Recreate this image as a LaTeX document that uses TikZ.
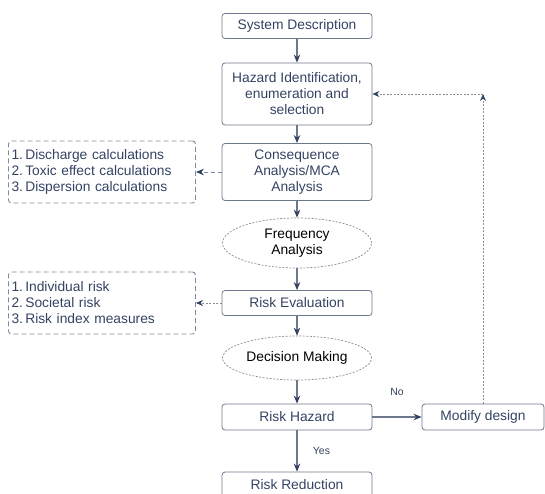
\documentclass[tikz,border=0pt]{standalone}
\usepackage{fontspec}
\setmainfont{Liberation Sans}
\usepackage{xcolor}
\usepackage{tikz}
\usetikzlibrary{shapes.geometric, arrows.meta, positioning}
\definecolor{riskink}{RGB}{52, 66, 98}
\definecolor{riskline}{RGB}{110, 120, 140}
\definecolor{riskdash}{RGB}{125, 138, 160}
\definecolor{riskdot}{RGB}{140, 140, 145}

\begin{document}
\begin{tikzpicture}[x=1pt, y=-1pt, node distance=60pt, font=\fontsize{13.8pt}{16pt}\selectfont]
    % Styles
    \tikzstyle{block} = [rectangle, draw=riskline, text=riskink, align=center, rounded corners=3pt, minimum height=25pt, minimum width=150pt, line width=0.8pt]
    \tikzstyle{cloud} = [ellipse, draw=riskdot, dash pattern=on 2pt off 1.5pt, text=black, align=center, minimum height=48pt, minimum width=149pt, line width=0.7pt, inner sep=0pt]
    \tikzstyle{notes} = [rectangle, draw=riskdash, dash pattern=on 5pt off 3pt, text=riskink, align=left, rounded corners=3pt, minimum height=62pt, text width=181pt, line width=0.9pt, inner sep=3pt]
    \tikzstyle{arrow} = [draw=riskline, line width=1.2pt, -{Stealth[length=8pt, width=6.5pt, riskink]}]
    \tikzstyle{back} = [draw=riskdot, dash pattern=on 2pt off 1.5pt, line width=0.8pt, -{Stealth[length=7pt, width=6pt, riskink]}]

    \useasboundingbox (0,0) rectangle (545,494);

    % Nodes
    \node [block] (sys) at (297,26) {System Description};
    \node [block, below of=sys, node distance=68pt, minimum height=62pt] (haz) {Hazard Identification,\\ enumeration and\\ selection};
    \node [block, below of=haz, node distance=78pt, minimum height=57pt] (cons) {Consequence\\ Analysis/MCA\\ Analysis};
    \node [cloud, below of=cons, node distance=71pt, minimum height=50pt] (freq) {Frequency\\ Analysis};
    \node [block, below of=freq, node distance=60pt] (eval) {Risk Evaluation};
    \node [cloud, below of=eval, node distance=55pt, minimum height=44pt] (dec) {Decision Making};
    \node [block, below of=dec, node distance=59pt, minimum height=26pt] (rh) {Risk Hazard};
    \node [block, below of=rh, node distance=68pt, minimum height=26pt] (rr) {Risk Reduction};
    \node [block, right of=rh, node distance=186pt, minimum width=122pt, minimum height=26pt] (md) {Modify design};
    \node [notes, left of=cons, node distance=195pt] (calc) {1.\,Discharge calculations\\ 2.\,Toxic effect calculations\\ 3.\,Dispersion calculations};
    \node [notes, left of=eval, node distance=195pt] (meas) {1.\,Individual risk\\ 2.\,Societal risk\\ 3.\,Risk index measures};
    \coordinate (turn) at (md.north |- haz);

    % Arrows
    \draw [arrow] (sys) -- (haz);
    \draw [arrow] (haz) -- (cons);
    \draw [arrow] (cons) -- (freq);
    \draw [arrow] (freq) -- (eval);
    \draw [arrow] (eval) -- (dec);
    \draw [arrow] (dec) -- (rh);
    \draw [arrow] (rh) -- node [right, xshift=12pt, text=riskink, font=\fontsize{10.5pt}{12pt}\selectfont] {Yes} (rr);
    \draw [arrow, line width=1.8pt] (rh) -- node [above, yshift=17pt, text=riskink, font=\fontsize{10.5pt}{12pt}\selectfont] {No} (md);
    \draw [arrow, draw=riskdash, dash pattern=on 4pt off 3pt, line width=0.9pt] (cons) -- (calc);
    \draw [back] (eval) -- (meas);
    \draw [back] (md) -- (turn);
    \draw [back] (turn) -- (haz);
\end{tikzpicture}
\end{document}
